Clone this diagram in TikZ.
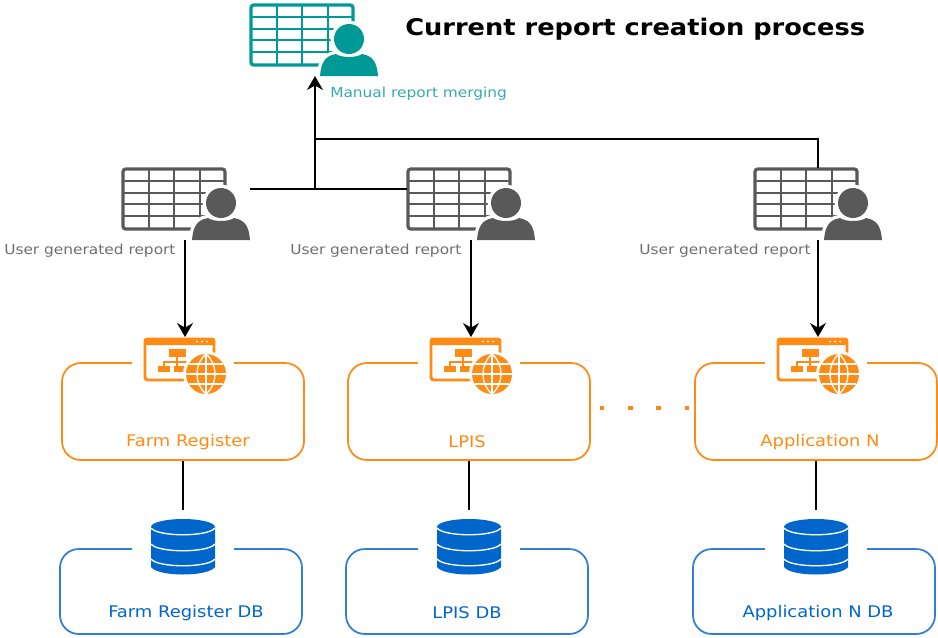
\documentclass[tikz,border=0pt]{standalone}
\usepackage{fontspec}
\setmainfont{DejaVu Sans}
\newfontfamily\widefont[FakeStretch=1.12]{DejaVu Sans}
\usetikzlibrary{arrows.meta,calc}
\definecolor{teal1}{HTML}{009A96}
\definecolor{tealtext}{HTML}{35ABA8}
\definecolor{gray1}{HTML}{595959}
\definecolor{graytext}{HTML}{6E6E6E}
\definecolor{orange1}{HTML}{FF8A14}
\definecolor{blue1}{HTML}{0066CC}
\definecolor{bluebox}{HTML}{2F7FD6}
\tikzset{
  px/.style={x=0.75pt,y=-0.75pt},
  appbox/.style={draw=orange1,line width=1.3pt,rounded corners=14pt,minimum width=181.5pt,minimum height=72.7pt,inner sep=0pt},
  dbbox/.style={draw=bluebox,line width=1.3pt,rounded corners=14pt,minimum width=181.5pt,minimum height=63.7pt,inner sep=0pt},
  hole/.style={fill=white,draw=none,minimum height=6pt,inner sep=0pt},
  anchorbox/.style={draw=none,inner sep=0pt,outer sep=0pt},
  lbl/.style={font=\widefont\fontsize{10.3pt}{12pt}\selectfont,inner sep=0pt},
  lblbig/.style={font=\widefont\fontsize{12pt}{14pt}\selectfont,inner sep=0pt},
  conn/.style={draw=black,line width=1.05pt},
  arr/.style={conn,-{Stealth[length=10.5pt,width=12pt]}},
  pics/report/.style={code={
    \draw[#1,line width=2.4pt,rounded corners=2pt] (1,1) rectangle (103,61);
    \foreach \c in {27,52,78}{\draw[#1,line width=2.2pt] (\c,1) -- (\c,61);}
    \foreach \c in {13,25,36,48}{\draw[#1,line width=2.2pt] (1,\c) -- (103,\c);}
    \draw[white,fill=white,line width=5pt] (99,35) circle (15);
    \draw[white,fill=white,line width=5pt] (70,72) .. controls (71,60) and (74,52) .. (86,50) .. controls (92,54) and (106,54) .. (112,50) .. controls (124,52) and (127,60) .. (128,72) -- cycle;
    \fill[#1] (99,35) circle (15);
    \fill[#1] (70,72) .. controls (71,60) and (74,52) .. (86,50) .. controls (92,54) and (106,54) .. (112,50) .. controls (124,52) and (127,60) .. (128,72) -- cycle;
  }},
  pics/appicon/.style={code={
    \draw[orange1,line width=2.2pt,rounded corners=2pt] (1,1) rectangle (70,42);
    \fill[orange1,rounded corners=1pt] (0,0) rectangle (71,7);
    \foreach \c in {53,58,63}{\fill[white] (\c,3.5) circle (1);}
    \fill[orange1] (25,11) rectangle (42,19);
    \fill[orange1] (14,28) rectangle (26,34);
    \fill[orange1] (30,28) rectangle (42,34);
    \draw[orange1,line width=1.2pt] (33,19) -- (33,28) (20,28) -- (20,24) -- (46,24);
    \fill[white] (62,36) circle (23);
    \fill[orange1] (62,36) circle (20);
    \draw[white,line width=1pt] (42,36) -- (82,36) (45,26) -- (79,26) (45,46) -- (79,46) (62,16) -- (62,56);
    \draw[white,line width=1pt] (62,16) .. controls (50,26) and (50,46) .. (62,56) (62,16) .. controls (74,26) and (74,46) .. (62,56);
  }},
  pics/dbicon/.style={code={
    \fill[blue1] (-32,8) arc[start angle=180,end angle=360,x radius=32,y radius=8] -- (32,8) arc[start angle=0,end angle=180,x radius=32,y radius=8] -- cycle;
    \fill[blue1] (-32,8) -- (-32,48) .. controls (-25,58) and (25,58) .. (32,48) -- (32,8) -- cycle;
    \foreach \c in {9,25,40}{\draw[white,line width=1pt] (-32,\c) .. controls (-25,\c+9) and (25,\c+9) .. (32,\c);}
  }}
}
\begin{document}
\begin{tikzpicture}[px]
\useasboundingbox (0,0) rectangle (938,637);
% boxes
\node[appbox] (fr) at (183,411.5) {};
\node[appbox] (lp) at (469,411.5) {};
\node[appbox] (an) at (816,411.5) {};
\node[dbbox] (frd) at (181,591.5) {};
\node[dbbox] (lpd) at (467,591.5) {};
\node[dbbox] (and) at (814,591.5) {};
% gaps in the box tops
\foreach \n in {fr,lp,an}{\node[hole,minimum width=77pt] at (\n.north) {};}
\foreach \n in {frd,lpd,and}{\node[hole,minimum width=77pt] at ($(\n.north)+(2,0)$) {};}
% icon anchors
\node[anchorbox,minimum width=96pt,minimum height=54pt] (mr) at (315,40) {};
\node[anchorbox,minimum width=96pt,minimum height=54pt] (r1) at (186,204) {};
\node[anchorbox,minimum width=96pt,minimum height=54pt] (r2) at (471,204) {};
\node[anchorbox,minimum width=96pt,minimum height=54pt] (r3) at (818,204) {};
\node[anchorbox,minimum width=61.5pt,minimum height=42pt] (a1) at (185,365) {};
\node[anchorbox,minimum width=61.5pt,minimum height=42pt] (a2) at (471,365) {};
\node[anchorbox,minimum width=61.5pt,minimum height=42pt] (a3) at (818,365) {};
\node[anchorbox,minimum width=48pt,minimum height=42pt] (d1) at (183,547) {};
\node[anchorbox,minimum width=48pt,minimum height=42pt] (d2) at (469,547) {};
\node[anchorbox,minimum width=48pt,minimum height=42pt] (d3) at (816,547) {};
% icons
\pic at (250,4) {report=teal1};
\pic at (122,168) {report=gray1};
\pic at (407,168) {report=gray1};
\pic at (754,168) {report=gray1};
\pic at (144,338) {appicon};
\pic at (430,338) {appicon};
\pic at (777,338) {appicon};
\pic at (183,519) {dbicon};
\pic at (469,519) {dbicon};
\pic at (816,519) {dbicon};
% text
\node[font=\widefont\fontsize{17.2pt}{20pt}\bfseries\selectfont,anchor=west,inner sep=0pt] (title) at (405,29) {Current report creation process};
\node[lbl,text=tealtext,anchor=west] (tm) at (330,94) {Manual report merging};
\node[lbl,text=graytext,anchor=west] (t1) at (4,251) {User generated report};
\node[lbl,text=graytext,anchor=west] (t2) at (290,251) {User generated report};
\node[lbl,text=graytext,anchor=west] (t3) at (639,251) {User generated report};
\node[lblbig,text=orange1] (l1) at (188,442) {Farm Register};
\node[lblbig,text=orange1] (l2) at (467,442) {LPIS};
\node[lblbig,text=orange1] (l3) at (820,442) {Application N};
\node[lblbig,text=blue1] (l4) at (186,613) {Farm Register DB};
\node[lblbig,text=blue1] (l5) at (467,613) {LPIS DB};
\node[lblbig,text=blue1] (l6) at (818,613) {Application N DB};
% connectors
\coordinate (m) at (315,189);
\coordinate (j) at (315,139);
\coordinate (dy) at (0,408);
\draw[conn] (r1.east |- m) -- (r2.west |- m);
\draw[arr] (m) -- (m |- mr.south);
\draw[conn] (j) -| (r3.north);
\draw[arr] (a1.north |- r1.south) -- (a1.north);
\draw[arr] (a2.north |- r2.south) -- (a2.north);
\draw[arr] (a3.north |- r3.south) -- (a3.north);
\draw[conn,shorten >=6.75pt] (fr.south) -- (d1.north);
\draw[conn,shorten >=6.75pt] (lp.south) -- (d2.north);
\draw[conn,shorten >=6.75pt] (an.south) -- (d3.north);
\draw[orange1,line width=3.4pt,dash pattern=on 3.4pt off 17.8pt] ($(lp.east |- dy)+(9,0)$) -- (an.west |- dy);
\end{tikzpicture}
\end{document}
